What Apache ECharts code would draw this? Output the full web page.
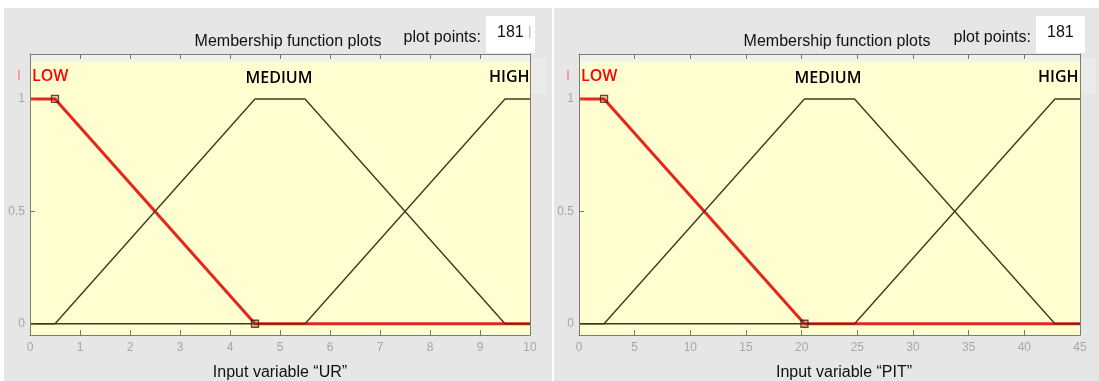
<!DOCTYPE html>
<html>
<head>
<meta charset="utf-8">
<script src="https://cdn.jsdelivr.net/npm/echarts@6/dist/echarts.min.js"></script>
<style>
  html, body { margin: 0; padding: 0; background: #ffffff; }
  #chart { width: 1099px; height: 381px; }
</style>
</head>
<body>
<div id="chart"></div>
<script>
// Membership function names (same for both input variables)
const mfNames = ['LOW', 'MEDIUM', 'HIGH'];

// Input variable "UR" (range 0..10): trapezoid break points
const urLowX  = [0, 0.5, 4.5, 10];
const urLowY  = [1, 1, 0, 0];
const urMedX  = [0, 0.5, 4.5, 5.5, 9.5, 10];
const urMedY  = [0, 0, 1, 1, 0, 0];
const urHighX = [0, 5.5, 9.5, 10];
const urHighY = [0, 0, 1, 1];

// Input variable "PIT" (range 0..45)
const pitLowX  = [0, 2.25, 20.25, 45];
const pitLowY  = [1, 1, 0, 0];
const pitMedX  = [0, 2.25, 20.25, 24.75, 42.75, 45];
const pitMedY  = [0, 0, 1, 1, 0, 0];
const pitHighX = [0, 24.75, 42.75, 45];
const pitHighY = [0, 0, 1, 1];

// Axis ranges and ticks
const urRange = [0, 10], urStep = 1;
const pitRange = [0, 45], pitStep = 5;
const yTicks = [0, 0.5, 1];
const yRange = [-0.05, 1.2];
const plotPoints = '181';
const xTitles = ['Input variable \u201cUR\u201d', 'Input variable \u201cPIT\u201d'];

const zip = (xs, ys) => xs.map((x, i) => [x, ys[i]]);

const RED = '#e5261c';
const DARK = '#3c3c20';
const PANEL = '#e6e6e6';
const YELLOW = '#fefed0';
const BOX = '#7d7d70';
const TICKLBL = '#a6a6a6';

const grids = [
  { left: 30, top: 54, width: 500, height: 281 },
  { left: 579, top: 54, width: 501, height: 281 }
];

function xAxes(gi, range, step) {
  const common = {
    type: 'value', gridIndex: gi, min: range[0], max: range[1], interval: step,
    z: 4,
    axisLine: { show: true, onZero: false, lineStyle: { color: BOX, width: 1 } },
    axisTick: { show: true, inside: true, length: 5, lineStyle: { color: '#77776a' } },
    splitLine: { show: false }
  };
  return [
    Object.assign({}, common, {
      position: 'bottom',
      axisLabel: { show: true, color: TICKLBL, fontSize: 12, margin: 7,
                   fontFamily: 'Liberation Sans Narrow, Liberation Sans, Arial' }
    }),
    Object.assign({}, common, { position: 'top', axisLabel: { show: false } })
  ];
}

function yAxes(gi) {
  const common = {
    type: 'value', gridIndex: gi, min: yRange[0], max: yRange[1],
    z: 4,
    axisLine: { show: true, onZero: false, lineStyle: { color: BOX, width: 1 } },
    splitLine: { show: false }
  };
  return [
    Object.assign({}, common, {
      position: 'left',
      axisTick: { show: true, inside: true, length: 5, customValues: yTicks,
                  lineStyle: { color: '#77776a' } },
      axisLabel: { show: true, customValues: yTicks, color: TICKLBL, fontSize: 12, margin: 5,
                   fontFamily: 'Liberation Sans Narrow, Liberation Sans, Arial' }
    }),
    Object.assign({}, common, {
      position: 'right',
      axisTick: { show: false },
      axisLabel: { show: false }
    })
  ];
}

function panelSeries(gi, low, med, high) {
  const xi = gi * 2, yi = gi * 2;
  return [
    {
      type: 'line', xAxisIndex: xi, yAxisIndex: yi, data: low,
      symbol: 'none', lineStyle: { color: RED, width: 3 }, z: 2,
      animation: false,
      markArea: {
        silent: true, z: 1,
        itemStyle: { color: YELLOW },
        data: [[{ yAxis: yRange[0] }, { yAxis: 1.165 }]]
      }
    },
    {
      type: 'line', xAxisIndex: xi, yAxisIndex: yi, data: med,
      symbol: 'none', lineStyle: { color: DARK, width: 1.4 }, z: 3, animation: false
    },
    {
      type: 'line', xAxisIndex: xi, yAxisIndex: yi, data: high,
      symbol: 'none', lineStyle: { color: DARK, width: 1.4 }, z: 3, animation: false
    },
    {
      // vertices of the selected (LOW) function
      type: 'scatter', xAxisIndex: xi, yAxisIndex: yi,
      data: [low[1], low[2]],
      symbol: 'rect', symbolSize: 7, z: 6, animation: false,
      itemStyle: { color: 'rgba(200,40,30,0.35)', borderColor: '#3a2418', borderWidth: 1.3 }
    }
  ];
}

const FONT = 'Liberation Sans, Arial, sans-serif';
const MF_FONT = '600 16px "Open Sans", sans-serif';

function panelGraphics(px, pw, g, title, cutChar) {
  const gl = g.left, gr = g.left + g.width;
  const els = [
    { type: 'rect', z: -10, shape: { x: px, y: 8, width: pw, height: 373 }, style: { fill: PANEL } },
    // plot-points field
    { type: 'rect', z: 10, shape: { x: gr - 44, y: 16, width: 49, height: 37 }, style: { fill: '#ffffff' } },
    { type: 'text', z: 11, x: gr - 33, y: 33,
      style: { text: plotPoints, font: '16px ' + FONT, fill: '#111', textVerticalAlign: 'middle' } },
    { type: 'text', z: 11, x: gr - 49, y: 38,
      style: { text: 'plot points:', font: '16px ' + FONT, fill: '#111',
               textAlign: 'right', textVerticalAlign: 'middle' } },
    { type: 'text', z: 11, x: gl + 258, y: 42,
      style: { text: 'Membership function plots', font: '16px ' + FONT, fill: '#111',
               textAlign: 'center', textVerticalAlign: 'middle' } },
    // membership function labels
    { type: 'text', z: 11, x: gl + 2, y: 76,
      style: { text: mfNames[0], font: MF_FONT, fill: '#ff0000', textVerticalAlign: 'middle' } },
    { type: 'text', z: 11, x: gl + 249, y: 78,
      style: { text: mfNames[1], font: MF_FONT, fill: '#000', textAlign: 'center', textVerticalAlign: 'middle' } },
    { type: 'text', z: 11, x: gl + 459, y: 77,
      style: { text: mfNames[2], font: MF_FONT, fill: '#000', textVerticalAlign: 'middle' } },
    // panel margin beside the label row
    { type: 'rect', z: 12, shape: { x: gr + 1, y: 58, width: 15, height: 36 }, style: { fill: '#ebebeb' } },
    { type: 'rect', z: 12, shape: { x: gl - 12, y: 70, width: 2, height: 10 }, style: { fill: '#f4a0a0' } },
    // x axis title
    { type: 'text', z: 11, x: gl + 250 + (title.indexOf('PIT') > 0 ? 15 : 0), y: 373,
      style: { text: title, font: '16px ' + FONT, fill: '#111', textAlign: 'center', textVerticalAlign: 'middle' } }
  ];
  if (cutChar) {
    els.push({ type: 'rect', z: 12, shape: { x: gr - 1, y: 26, width: 1.5, height: 12 }, style: { fill: '#c8c8c8' } });
  }
  return els;
}

const chart = echarts.init(document.getElementById('chart'), null, { renderer: 'canvas' });
chart.setOption({
  backgroundColor: '#ffffff',
  animation: false,
  grid: grids.map(g => Object.assign({ show: true, backgroundColor: '#f0f0ec', borderWidth: 0 }, g)),
  xAxis: [].concat(xAxes(0, urRange, urStep), xAxes(1, pitRange, pitStep)),
  yAxis: [].concat(yAxes(0), yAxes(1)),
  series: [].concat(
    panelSeries(0, zip(urLowX, urLowY), zip(urMedX, urMedY), zip(urHighX, urHighY)),
    panelSeries(1, zip(pitLowX, pitLowY), zip(pitMedX, pitMedY), zip(pitHighX, pitHighY))
  ),
  graphic: { elements: [].concat(
    panelGraphics(4, 548, grids[0], xTitles[0], true),
    panelGraphics(554, 545, grids[1], xTitles[1], false)
  ) }
});
</script>
</body>
</html>
